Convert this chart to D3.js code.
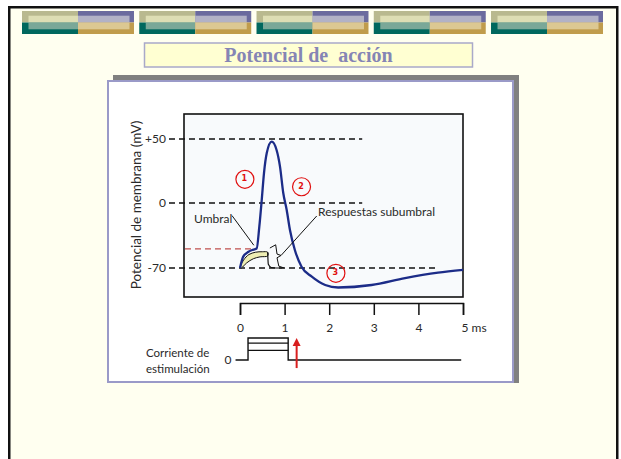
<!DOCTYPE html>
<html>
<head>
<meta charset="utf-8">
<script src="https://cdn.jsdelivr.net/npm/d3@7"></script>
<style>
  body { margin: 0; background: #fff; }
  svg { display: block; }
</style>
</head>
<body>
<div id="main-chart"></div>
<script>
// action potential trace (time in ms, membrane potential in mV)
const apTime = [0, 0.07, 0.19, 0.30, 0.374, 0.433, 0.487, 0.538, 0.60, 0.71, 0.82, 0.897, 0.97, 1.047, 1.12, 1.23, 1.38, 1.61, 1.91, 2.20, 2.95, 3.70, 4.44, 5.0];
const apMv   = [-70, -58, -52.5, -50.2, -49, -25.5, 2.3, 23.4, 39, 47.9, 41.4, 28.4, 7.8, -7.5, -29, -50.6, -68.6, -79.4, -88.3, -91, -88.3, -80.8, -75, -72];

// subthreshold responses (upper and lower edges of the shaded crescent, then the decay)
const subUpperTime = [0.0, 0.08, 0.2, 0.35, 0.5, 0.62];
const subUpperMv   = [-70, -61.5, -55.5, -53, -52.5, -53];
const subLowerTime = [0.03, 0.15, 0.3, 0.45, 0.62];
const subLowerMv   = [-70, -64.5, -60, -58, -57];
const subTailTime  = [0.62, 0.635, 0.7, 0.8, 0.95];
const subTailMv    = [-53, -66, -69.5, -70, -70];

// reference levels (dashed lines)
const levelMv    = [50, 0, -70];
const levelLabel = ['+50', '0', '-70'];
const levelEnd   = [2.74, 2.74, 4.42];
const thresholdMv = -49.5;
const thresholdEnd = 0.3;

// x axis ticks
const timeTicks = [0, 1, 2, 3, 4, 5];

// stimulation current (step amplitudes, arbitrary units)
const stimStart = 0.18, stimEnd = 1.08;
const stimLevels = [1.3, 2.3, 3];
const stimArrowTime = 1.27;

// circled numbers
const markNum  = ['1', '2', '3'];
const markTime = [0.11, 1.38, 2.15];
const markMv   = [18.5, 12.7, -75.7];

// annotation leaders in data coordinates
const umbralLeader = [[-0.18, -13.5], [0.31, -45.5]];
const bracketPts = [[0.67, -48.5], [0.80, -45], [0.83, -55], [0.92, -56.5], [0.83, -59], [0.87, -68], [0.99, -70]];
const respLeader = [[0.92, -56.5], [1.72, -14]];

const W = 621, H = 459;
const svg = d3.select('#main-chart').append('svg')
  .attr('width', W).attr('height', H);

// slide
svg.append('rect').attr('width', W).attr('height', H).attr('fill', '#fff');
svg.append('rect').attr('x', 9.25).attr('y', 7.25).attr('width', 608).attr('height', 480)
  .attr('fill', '#fffff0').attr('stroke', '#111').attr('stroke-width', 2.5);

// banner tiles
let tx = d3.scaleBand().domain(d3.range(5)).range([22, 603]).paddingInner(0.045);
let tiles = svg.selectAll('.tile').data(d3.range(5)).join('g')
  .attr('class', 'tile')
  .attr('transform', d => `translate(${tx(d)},11)`);
let tw = tx.bandwidth(), th = 23;
const outerCols = ['#b9b98f', '#6b6b9e', '#00685e', '#c09c4c'];
const innerCols = ['#dedeb4', '#b2b2c6', '#7aa898', '#dcc892'];
[[0, 0], [1, 0], [0, 1], [1, 1]].forEach(([cx, cy], i) => {
  tiles.append('rect').attr('x', cx * tw / 2).attr('y', cy * th / 2)
    .attr('width', tw / 2).attr('height', th / 2).attr('fill', outerCols[i]);
});
[[0, 0], [1, 0], [0, 1], [1, 1]].forEach(([cx, cy], i) => {
  let x0 = cx ? tw / 2 : 6.5, x1 = cx ? tw - 4.5 : tw / 2;
  let y0 = cy ? th / 2 : 4.7, y1 = cy ? th - 4.7 : th / 2;
  tiles.append('rect').attr('x', x0).attr('y', y0)
    .attr('width', x1 - x0).attr('height', y1 - y0).attr('fill', innerCols[i]);
});

// title
svg.append('rect').attr('x', 144.5).attr('y', 43).attr('width', 328).attr('height', 24)
  .attr('fill', '#ffffd2').attr('stroke', '#a9a9c9').attr('stroke-width', 1.5);
svg.append('text').attr('x', 308.5).attr('y', 62)
  .attr('text-anchor', 'middle')
  .style('white-space', 'pre')
  .style('font-family', '"Liberation Serif", serif')
  .style('font-weight', 'bold').style('font-size', '20px')
  .attr('fill', '#8585b5')
  .text('Potencial de  acción');

// figure panel
svg.append('rect').attr('x', 113).attr('y', 75).attr('width', 406).attr('height', 308).attr('fill', '#808080');
svg.append('rect').attr('x', 108).attr('y', 81).attr('width', 405).attr('height', 301)
  .attr('fill', '#fff').attr('stroke', '#9a9ac8').attr('stroke-width', 2);

// scales
let x = d3.scaleLinear().domain([0, 5]).range([240, 463]);
let y = d3.scaleLinear().domain([-70, 0, 50]).range([268, 203, 139]);
let stimY = d3.scaleLinear().domain([0, 3]).range([360, 338]);

const font = 'Lato, "DejaVu Sans", sans-serif';
const ink = '#2a2a2a';

// plot frame
svg.append('rect').attr('x', 184).attr('y', 114).attr('width', 279).attr('height', 183)
  .attr('fill', '#f8fafc').attr('stroke', '#111').attr('stroke-width', 1.6);

// dashed reference lines
svg.selectAll('.level').data(levelMv).join('line')
  .attr('class', 'level')
  .attr('x1', 169).attr('x2', (d, i) => x(levelEnd[i]))
  .attr('y1', d => y(d)).attr('y2', d => y(d))
  .attr('stroke', '#111').attr('stroke-width', 1.5).attr('stroke-dasharray', '6,4');
svg.append('line')
  .attr('x1', 185).attr('x2', x(thresholdEnd))
  .attr('y1', y(thresholdMv)).attr('y2', y(thresholdMv))
  .attr('stroke', '#c0504d').attr('stroke-width', 1.2).attr('stroke-dasharray', '6,4');

// y tick labels
svg.append('g')
  .attr('transform', 'translate(168,0)')
  .call(d3.axisLeft(y).tickValues(levelMv).tickSize(0).tickPadding(2).tickFormat((d, i) => levelLabel[i]))
  .call(g => g.select('.domain').remove())
  .selectAll('text')
  .style('font-family', font).style('font-size', '12px').attr('fill', ink);

svg.append('text')
  .attr('transform', 'translate(141,205) rotate(-90)')
  .attr('text-anchor', 'middle')
  .style('font-family', font).style('font-size', '13.5px').attr('fill', ink)
  .text('Potencial de membrana (mV)');

// subthreshold responses
let pts = (ts, vs) => ts.map((t, i) => [x(t), y(vs[i])]);
let crescent = pts(subUpperTime, subUpperMv).concat(pts(subLowerTime, subLowerMv).reverse());
svg.append('path')
  .attr('d', d3.line().curve(d3.curveCatmullRomClosed)(crescent))
  .attr('fill', '#eeeeb4').attr('stroke', '#111').attr('stroke-width', 1);
svg.append('path')
  .attr('d', d3.line().curve(d3.curveMonotoneX)(pts(subTailTime, subTailMv)))
  .attr('fill', 'none').attr('stroke', '#111').attr('stroke-width', 1.2);

// action potential
let apLine = d3.line().x(d => x(d[0])).y(d => y(d[1])).curve(d3.curveMonotoneX);
svg.append('path')
  .attr('d', apLine(apTime.map((t, i) => [t, apMv[i]])))
  .attr('fill', 'none').attr('stroke', '#1c2c88').attr('stroke-width', 2.3);

// annotations
let annLine = d3.line().x(d => x(d[0])).y(d => y(d[1]));
[umbralLeader, bracketPts, respLeader].forEach(p => {
  svg.append('path').attr('d', annLine(p))
    .attr('fill', 'none').attr('stroke', '#111').attr('stroke-width', 1);
});
svg.append('text').attr('x', x(-1.03)).attr('y', y(-21))
  .style('font-family', font).style('font-size', '12px').attr('fill', ink).text('Umbral');
svg.append('text').attr('x', x(1.75)).attr('y', y(-14.5))
  .style('font-family', font).style('font-size', '12px').attr('fill', ink).text('Respuestas subumbral');

// circled numbers
let marks = svg.selectAll('.mark').data(markNum).join('g').attr('class', 'mark')
  .attr('transform', (d, i) => `translate(${x(markTime[i])},${y(markMv[i])})`);
marks.append('circle').attr('r', 9).attr('fill', 'none').attr('stroke', '#e01010').attr('stroke-width', 1.2);
marks.append('text').attr('dy', '0.35em').attr('text-anchor', 'middle').attr('x', -0.5).attr('y', -1)
  .style('font-family', '"DejaVu Sans", sans-serif').style('font-weight', 'bold').style('font-size', '8px')
  .attr('fill', '#e01010').text(d => d);

// time axis
let xAxis = svg.append('g')
  .attr('transform', 'translate(0,303)')
  .call(d3.axisBottom(x).tickValues(timeTicks).tickSize(12).tickSizeOuter(12).tickPadding(8)
    .tickFormat(d => d === 5 ? '5 ms' : d));
xAxis.select('.domain').attr('stroke', '#111').attr('stroke-width', 1.5);
xAxis.selectAll('.tick line').attr('stroke', '#111').attr('stroke-width', 1.5);
xAxis.selectAll('text')
  .style('font-family', font).style('font-size', '12px').attr('fill', ink)
  .filter(d => d === 5).attr('text-anchor', 'start').attr('x', -2);

// stimulation current
let stimPath = [[-0.1, 0], [stimStart, 0], [stimStart, 3], [stimEnd, 3], [stimEnd, 0], [4.96, 0]];
svg.append('path')
  .attr('d', d3.line().x(d => x(d[0])).y(d => stimY(d[1]))(stimPath))
  .attr('fill', 'none').attr('stroke', '#111').attr('stroke-width', 1.4);
svg.selectAll('.stim').data(stimLevels.slice(0, 2)).join('line')
  .attr('class', 'stim')
  .attr('x1', x(stimStart)).attr('x2', x(stimEnd))
  .attr('y1', d => stimY(d)).attr('y2', d => stimY(d))
  .attr('stroke', '#111').attr('stroke-width', 1.3);
svg.append('text').attr('x', x(-0.27)).attr('y', stimY(0)).attr('dy', '0.35em')
  .attr('text-anchor', 'middle')
  .style('font-family', font).style('font-size', '12px').attr('fill', ink).text('0');
svg.append('text').attr('x', 146).attr('y', 357)
  .style('font-family', font).style('font-size', '11.5px').attr('fill', ink).text('Corriente de');
svg.append('text').attr('x', 146).attr('y', 373)
  .style('font-family', font).style('font-size', '11.5px').attr('fill', ink).text('estimulación');

// red arrow
let ax = x(stimArrowTime);
svg.append('line').attr('x1', ax).attr('x2', ax).attr('y1', stimY(-1.1)).attr('y2', stimY(2.3))
  .attr('stroke', '#d81e1e').attr('stroke-width', 2);
svg.append('path')
  .attr('d', `M${ax},${stimY(3)}L${ax - 4},${stimY(1.9)}L${ax + 4},${stimY(1.9)}Z`)
  .attr('fill', '#d81e1e');
</script>
</body>
</html>
